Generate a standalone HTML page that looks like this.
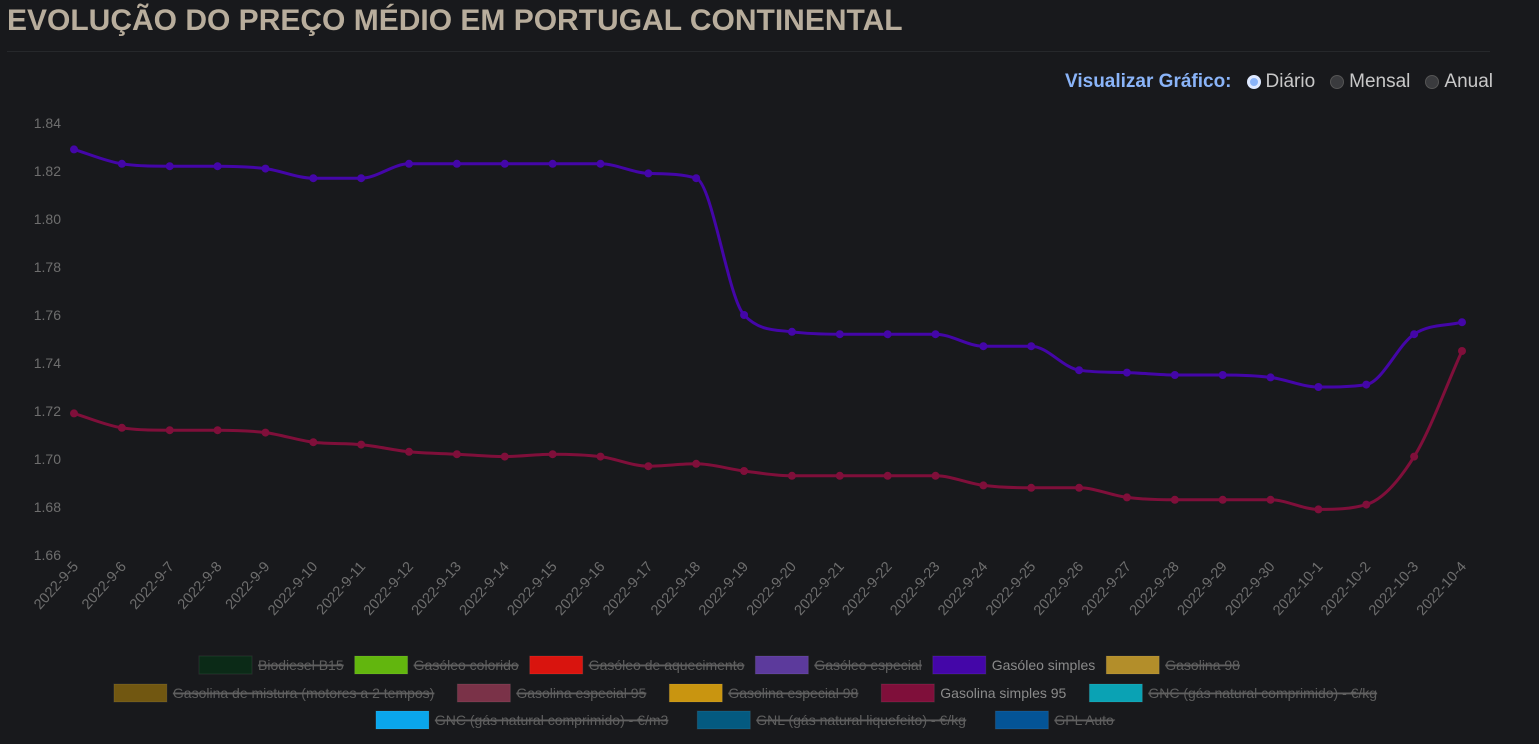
<!DOCTYPE html>
<html><head><meta charset="utf-8">
<style>
body{margin:0;background:#18191c;width:1539px;height:744px;overflow:hidden;font-family:"Liberation Sans",sans-serif;}
#title{position:absolute;left:7px;top:4px;font-size:30px;font-weight:bold;color:#b8ad9c;letter-spacing:0px;}
#sep{position:absolute;left:7px;top:51px;width:1483px;height:1px;background:#26282b;}
#viz{position:absolute;right:46px;top:71px;font-size:19px;color:#c8c8c8;display:flex;align-items:center;gap:5px;}
#viz b{color:#8ab4f8;}
.rd{display:inline-block;width:14px;height:14px;border-radius:50%;background:#3a3b3e;border:1px solid #555;margin-left:10px;box-sizing:border-box;}
.rd.on{background:#8ab4f8;border:3px solid #dfe9ff;}
</style></head><body>
<div id="title">EVOLUÇÃO DO PREÇO MÉDIO EM PORTUGAL CONTINENTAL</div>
<div id="sep"></div>
<div id="viz"><b>Visualizar Gráfico:</b>
<span class="rd on"></span><span>Diário</span>
<span class="rd"></span><span>Mensal</span>
<span class="rd"></span><span>Anual</span></div>
<svg id="chart" width="1539" height="744" style="position:absolute;left:0;top:0"></svg>
<script>
const dates=["2022-9-5","2022-9-6","2022-9-7","2022-9-8","2022-9-9","2022-9-10","2022-9-11","2022-9-12","2022-9-13","2022-9-14","2022-9-15","2022-9-16","2022-9-17","2022-9-18","2022-9-19","2022-9-20","2022-9-21","2022-9-22","2022-9-23","2022-9-24","2022-9-25","2022-9-26","2022-9-27","2022-9-28","2022-9-29","2022-9-30","2022-10-1","2022-10-2","2022-10-3","2022-10-4"];
const gasoleoSimples=[1.829,1.823,1.822,1.822,1.821,1.817,1.817,1.823,1.823,1.823,1.823,1.823,1.819,1.817,1.760,1.753,1.752,1.752,1.752,1.747,1.747,1.737,1.736,1.735,1.735,1.734,1.730,1.731,1.752,1.757];
const gasolinaSimples95=[1.719,1.713,1.712,1.712,1.711,1.707,1.706,1.703,1.702,1.701,1.702,1.701,1.697,1.698,1.695,1.693,1.693,1.693,1.693,1.689,1.688,1.688,1.684,1.683,1.683,1.683,1.679,1.681,1.701,1.745];
const yTicks=[1.84,1.82,1.80,1.78,1.76,1.74,1.72,1.70,1.68,1.66];
const legendNames=["Biodiesel B15","Gasóleo colorido","Gasóleo de aquecimento","Gasóleo especial","Gasóleo simples","Gasolina 98","Gasolina de mistura (motores a 2 tempos)","Gasolina especial 95","Gasolina especial 98","Gasolina simples 95","GNC (gás natural comprimido) - €/kg","GNC (gás natural comprimido) - €/m3","GNL (gás natural liquefeito) - €/kg","GPL Auto"];
const legendColors=["#0b2a17","#62b60e","#d9140e","#5c3a9c","#4406a8","#b38e2a","#715711","#7a3248","#c99510","#7f0f3a","#0aa2b4","#0aa6ec","#045a80","#045496"];
const legendActive=[0,0,0,0,1,0,0,0,0,1,0,0,0,0];
const svg=document.getElementById('chart');const NS='http://www.w3.org/2000/svg';
const X0=74,X1=1462,Y0=1.66,Y1=1.84,PY0=555,PY1=123;
const xs=i=>X0+(X1-X0)*i/(dates.length-1);
const ys=v=>PY0+(v-Y0)/(Y1-Y0)*(PY1-PY0);
function mk(t,a,txt){const e=document.createElementNS(NS,t);for(const k in a)e.setAttribute(k,a[k]);if(txt!=null)e.textContent=txt;svg.appendChild(e);return e;}
yTicks.forEach(v=>{const t=mk('text',{x:61,y:ys(v)+5,'text-anchor':'end','font-size':14,fill:'#6e6e6e'},v.toFixed(2));

});
dates.forEach((d,i)=>{const x=xs(i)+5,y=567;const t=mk('text',{x:x,y:y,'text-anchor':'end','font-size':14.5,fill:'#6e6e6e',transform:`rotate(-48 ${x} ${y})`},d);

});
function monotone(pts){const n=pts.length;const dx=[],m=[],s=[];for(let i=0;i<n-1;i++){dx[i]=pts[i+1][0]-pts[i][0];s[i]=(pts[i+1][1]-pts[i][1])/dx[i];}
m[0]=s[0];m[n-1]=s[n-2];for(let i=1;i<n-1;i++){m[i]=(s[i-1]*s[i]<=0)?0:(s[i-1]+s[i])/2;}
for(let i=0;i<n-1;i++){if(s[i]===0){m[i]=0;m[i+1]=0;continue;}const a=m[i]/s[i],b=m[i+1]/s[i],h=a*a+b*b;if(h>9){const t=3/Math.sqrt(h);m[i]=t*a*s[i];m[i+1]=t*b*s[i];}}
let p=`M${pts[0][0]},${pts[0][1]}`;for(let i=0;i<n-1;i++){const h=dx[i]/3;p+=` C${pts[i][0]+h},${pts[i][1]+m[i]*h} ${pts[i+1][0]-h},${pts[i+1][1]-m[i+1]*h} ${pts[i+1][0]},${pts[i+1][1]}`;}return p;}
function series(vals,color,name){const pts=vals.map((v,i)=>[xs(i),ys(v)]);
const p=mk('path',{d:monotone(pts),fill:'none',stroke:color,'stroke-width':3});


pts.forEach(q=>{const c=mk('circle',{cx:q[0],cy:q[1],r:4,fill:color});

});}
series(gasoleoSimples,'#4406a8','gasoleo-simples');
series(gasolinaSimples95,'#7f0f3a','gasolina-simples-95');
const rows=[[0,5],[6,10],[11,13]],rowY=[665,693,720],rowOff=[-50,-24,-24],rowGap=[11,23,29];
const ctx=document.createElement('canvas').getContext('2d');ctx.font='14px "Liberation Sans"';
rows.forEach((r,ri)=>{const items=[];for(let i=r[0];i<=r[1];i++)items.push(i);
const g=rowGap[ri];
const widths=items.map(i=>53+6+ctx.measureText(legendNames[i]).width);const total=widths.reduce((a,b)=>a+b,0)+g*(items.length-1);
let x=(1539-total)/2+rowOff[ri];items.forEach((i,k)=>{
const b=mk('rect',{x:x,y:rowY[ri]-9,width:53,height:18,fill:legendColors[i],stroke:'rgba(255,255,255,0.08)'});


const t=mk('text',{x:x+59,y:rowY[ri]+5,'font-size':14,fill:legendActive[i]?'#8a8a8a':'#5f5f5f','text-decoration':legendActive[i]?'none':'line-through'},legendNames[i]);


if(!legendActive[i]){const w=ctx.measureText(legendNames[i]).width;const l=mk('line',{x1:x+59,x2:x+59+w,y1:rowY[ri],y2:rowY[ri],stroke:'#5f5f5f','stroke-width':1});

}
x+=widths[k]+g;});});
</script>
</body></html>
